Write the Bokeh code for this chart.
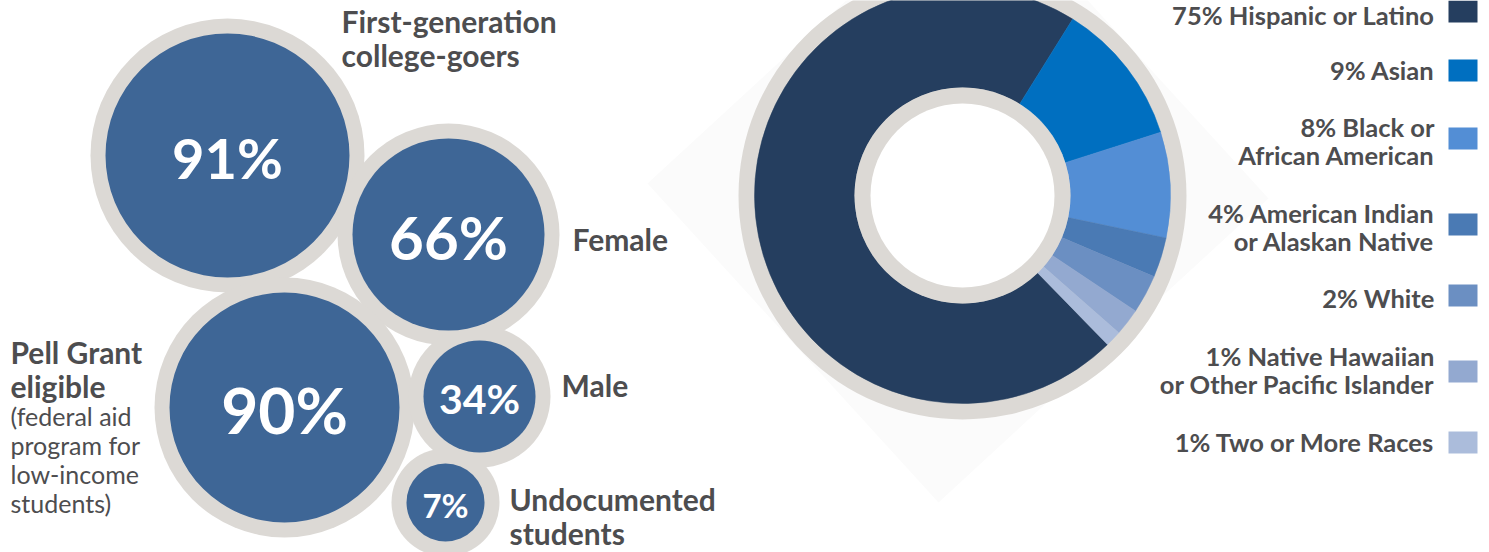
from bokeh.plotting import figure
from bokeh.models import Range1d
from bokeh.core.properties import value
from bokeh.embed import file_html
from bokeh.resources import INLINE
import numpy as np

# ---------------- data ----------------
bubble_pct = [91, 66, 90, 34, 7]
bubble_names = [
    ["First-generation", "college-goers"],
    ["Female"],
    ["Pell Grant", "eligible"],
    ["Male"],
    ["Undocumented", "students"],
]
pell_note = ["(federal aid", "program for", "low-income", "students)"]

race_names = [
    ["Hispanic or Latino"],
    ["Asian"],
    ["Black or", "African American"],
    ["American Indian", "or Alaskan Native"],
    ["White"],
    ["Native Hawaiian", "or Other Pacific Islander"],
    ["Two or More Races"],
]
race_pct = [75, 9, 8, 4, 2, 1, 1]
# slice shares as drawn in the reference
race_share = [71.2, 11.2, 8.2, 3.1, 3.0, 2.1, 1.25]
race_colors = ["#253e5f", "#006fc0", "#538ed5", "#4a7ab4", "#6b8fc2", "#93a9d0", "#abbcdb"]

# ---------------- layout (reference pixel coords) ----------------
W, H = 1489, 552
def Y(v):
    return H - v

TEXT = "#4d4d4f"
RING = "#dcd9d5"
BLUE = "#3e6696"
FONT = value("Lato")

bub_cx = [227, 448, 284, 479, 445]
bub_cy = [155, 234, 407, 396, 502]
bub_r = [122, 96, 115, 56, 39]
bub_ring = 15
pct_size = ["56px", "60px", "64px", "41px", "33px"]

p = figure(width=W, height=H, x_range=Range1d(0, W), y_range=Range1d(0, H),
           output_backend="svg", toolbar_location=None,
           x_axis_location=None, y_axis_location=None, min_border=0,
           background_fill_color="white", border_fill_color="white",
           outline_line_color=None)
p.grid.visible = False

# faint diamond behind donut
dx = [647, 938, 1268, 977]
dy = [183, 502, 198, -121]
p.patch(x=dx, y=[Y(v) for v in dy], fill_color="#fbfbfb", line_color=None)

# bubbles: gray rings first (they merge), then blue discs
p.circle(x=bub_cx, y=[Y(v) for v in bub_cy], radius=[r + bub_ring for r in bub_r],
         fill_color=RING, line_color=None)
p.circle(x=bub_cx, y=[Y(v) for v in bub_cy], radius=bub_r,
         fill_color=BLUE, line_color=None)
for i in range(len(bubble_pct)):
    p.text(x=[bub_cx[i]], y=[Y(bub_cy[i] + 2)], text=[f"{bubble_pct[i]}%"],
           text_font=FONT, text_font_style="bold", text_font_size=pct_size[i],
           text_color="white", text_align="center", text_baseline="middle")

# bubble labels
lab_x = [341, 572, 10, 561, 509]
lab_y = [20, 238, 351, 384, 498]
lab_gap = 34
for i, lines in enumerate(bubble_names):
    for j, s in enumerate(lines):
        p.text(x=[lab_x[i]], y=[Y(lab_y[i] + j * lab_gap)], text=[s],
               text_font=FONT, text_font_style="bold", text_font_size="30px",
               text_color=TEXT, text_align="left", text_baseline="middle")
for j, s in enumerate(pell_note):
    p.text(x=[10], y=[Y(415 + j * 29)], text=[s],
           text_font=FONT, text_font_size="25px",
           text_color=TEXT, text_align="left", text_baseline="middle")

# donut
cx, cy = 962, 195
p.circle(x=[cx], y=[Y(cy)], radius=224, fill_color=RING, line_color=None)
shares = np.array(race_share) / sum(race_share) * 2 * np.pi
start0 = np.deg2rad(-45.8)
starts = start0 - np.concatenate([[0], np.cumsum(shares)[:-1]])
ends = starts - shares
p.annular_wedge(x=cx, y=Y(cy), inner_radius=108, outer_radius=208,
                start_angle=list(starts), end_angle=list(ends), direction="clock",
                fill_color=race_colors, line_color=race_colors, line_width=0.5)
p.circle(x=[cx], y=[Y(cy)], radius=108, fill_color=RING, line_color=None)
p.circle(x=[cx], y=[Y(cy)], radius=92, fill_color="white", line_color=None)

# legend
sq_y = [11, 70, 138, 224, 295, 371, 442]
txt_y = [14, 69, 126, 212, 297, 355, 441]
line_gap = 28.5
p.rect(x=[1462.5] * 7, y=[Y(v) for v in sq_y], width=29, height=22,
       fill_color=race_colors, line_color=None)
for i, lines in enumerate(race_names):
    for j, s in enumerate(lines):
        t = f"{race_pct[i]}% {s}" if j == 0 else s
        p.text(x=[1434], y=[Y(txt_y[i] + j * line_gap)], text=[t],
               text_font=FONT, text_font_style="bold", text_font_size="25.5px",
               text_color=TEXT, text_align="right", text_baseline="middle")

open("out.html", "w").write(file_html(p, INLINE))
